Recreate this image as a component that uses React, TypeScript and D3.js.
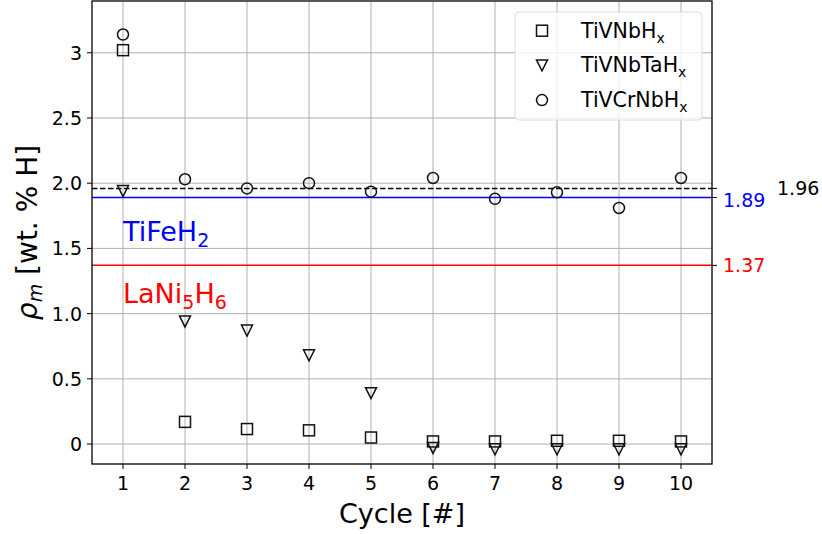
import React from "react";
import * as d3 from "d3";

const cycles = [1, 2, 3, 4, 5, 6, 7, 8, 9, 10];
const tiVNb = [3.02, 0.17, 0.115, 0.105, 0.05, 0.02, 0.02, 0.025, 0.025, 0.02];
const tiVNbTa = [1.94, 0.94, 0.87, 0.68, 0.39, -0.03, -0.04, -0.04, -0.04, -0.04];
const tiVCrNb = [3.14, 2.03, 1.96, 2.0, 1.935, 2.04, 1.88, 1.93, 1.81, 2.04];
const yTicks = [0, 0.5, 1.0, 1.5, 2.0, 2.5, 3];
const yTickLabels = ["0", "0.5", "1.0", "1.5", "2.0", "2.5", "3"];
const refValues = [1.96, 1.89, 1.37];

const width = 822;
const height = 534;
const margin = { top: 1, right: 110, bottom: 70, left: 92 };
const font = "DejaVu Sans, sans-serif";

export default function App() {
  const x = d3.scaleLinear([0.5, 10.5], [margin.left, width - margin.right]);
  const y = d3.scaleLinear([-0.153, 3.397], [height - margin.bottom, margin.top]);
  const [x0, x1] = x.range();
  const [y0, y1] = y.range();

  const square = (cx: number, cy: number, k: string) => (
    <rect key={k} x={cx - 5.5} y={cy - 5.5} width={11} height={11} fill="none" stroke="#111" strokeWidth={1.5} />
  );
  const tri = (cx: number, cy: number, k: string) => (
    <path key={k} d={`M${cx - 5.5},${cy - 5.5}L${cx + 5.5},${cy - 5.5}L${cx},${cy + 5.5}Z`} fill="none" stroke="#111" strokeWidth={1.5} />
  );
  const circ = (cx: number, cy: number, k: string) => (
    <circle key={k} cx={cx} cy={cy} r={5.5} fill="none" stroke="#111" strokeWidth={1.5} />
  );

  const legend = [
    { name: "TiVNbH", mk: square },
    { name: "TiVNbTaH", mk: tri },
    { name: "TiVCrNbH", mk: circ },
  ];

  return (
    <svg width={width} height={height} style={{ position: "absolute", left: 0, top: 0, background: "#fff" }} fontFamily={font}>
      {/* grid */}
      <g stroke="#b0b0b0" strokeWidth={1}>
        {cycles.map((c) => <line key={"gx" + c} x1={x(c)} x2={x(c)} y1={y1} y2={y0} />)}
        {yTicks.map((t) => <line key={"gy" + t} x1={x0} x2={x1} y1={y(t)} y2={y(t)} />)}
      </g>

      {/* reference lines */}
      <line x1={x0} x2={x1} y1={y(1.96)} y2={y(1.96)} stroke="#000" strokeWidth={1.5} strokeDasharray="5.5,2.5" />
      <line x1={x0} x2={x1} y1={y(1.89)} y2={y(1.89)} stroke="#0000ff" strokeWidth={1.5} />
      <line x1={x0} x2={x1} y1={y(1.37)} y2={y(1.37)} stroke="#ff0000" strokeWidth={1.5} />
      <text x={x(1)} y={y(1.89) + 43} fontSize={27} fill="#0000ff">
        TiFeH<tspan fontSize={19} dy={6}>2</tspan>
      </text>
      <text x={x(1)} y={y(1.37) + 38} fontSize={27} fill="#ff0000">
        LaNi<tspan fontSize={19} dy={6}>5</tspan><tspan dy={-6}>H</tspan><tspan fontSize={19} dy={6}>6</tspan>
      </text>

      {/* markers */}
      {cycles.map((c, i) => square(x(c), y(tiVNb[i]), "s" + c))}
      {cycles.map((c, i) => tri(x(c), y(tiVNbTa[i]), "t" + c))}
      {cycles.map((c, i) => circ(x(c), y(tiVCrNb[i]), "c" + c))}

      {/* frame */}
      <rect x={x0} y={y1} width={x1 - x0} height={y0 - y1} fill="none" stroke="#000" strokeWidth={1.3} />

      {/* x axis */}
      {cycles.map((c) => (
        <g key={"xt" + c}>
          <line x1={x(c)} x2={x(c)} y1={y0} y2={y0 + 5} stroke="#000" />
          <text x={x(c)} y={y0 + 26} fontSize={19} textAnchor="middle" fill="#000">{c}</text>
        </g>
      ))}
      <text x={(x0 + x1) / 2} y={523} fontSize={27} textAnchor="middle" fill="#000">Cycle [#]</text>

      {/* y axis */}
      {yTicks.map((t, i) => (
        <g key={"yt" + t}>
          <line x1={x0 - 5} x2={x0} y1={y(t)} y2={y(t)} stroke="#000" />
          <text x={x0 - 10} y={y(t) + 7} fontSize={19} textAnchor="end" fill="#000">{yTickLabels[i]}</text>
        </g>
      ))}
      <text transform={`translate(37,${(y0 + y1) / 2}) rotate(-90)`} fontSize={28} textAnchor="middle" fill="#000">
        <tspan fontStyle="italic">ρ</tspan><tspan fontStyle="italic" fontSize={19} dy={5}>m</tspan><tspan dy={-5}> [wt. % H]</tspan>
      </text>

      {/* right axis */}
      {refValues.map((v) => (
        <line key={"rt" + v} x1={x1} x2={x1 + 5} y1={y(v)} y2={y(v)} stroke="#000" />
      ))}
      <text x={x1 + 11} y={y(1.89) + 9} fontSize={19} fill="#0000ff">1.89</text>
      <text x={x1 + 11} y={y(1.37) + 7} fontSize={19} fill="#ff0000">1.37</text>
      <text x={x1 + 65} y={y(1.96) + 7} fontSize={19} fill="#000">1.96</text>

      {/* legend */}
      <rect x={515} y={12} width={187} height={108} rx={4} fill="#fff" fillOpacity={0.8} stroke="#ddd" />
      {legend.map((l, i) => (
        <g key={l.name}>
          {l.mk(542, 30.7 + i * 34.7, "lm" + i)}
          <text x={581} y={37.5 + i * 34.7} fontSize={20.5} fill="#000">
            {l.name}<tspan fontSize={14} dy={5}>x</tspan>
          </text>
        </g>
      ))}
    </svg>
  );
}
